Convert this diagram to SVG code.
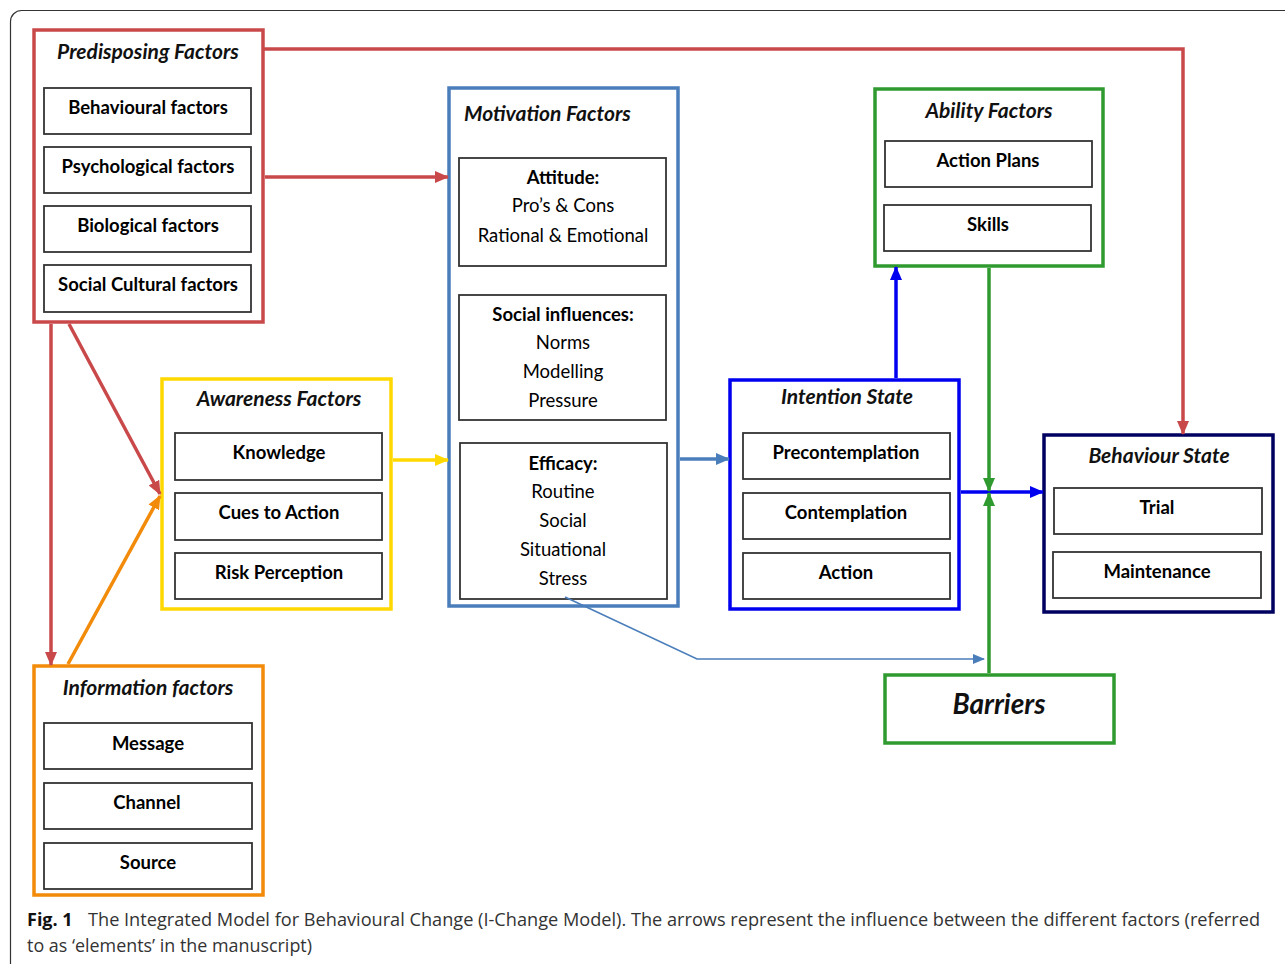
<svg xmlns="http://www.w3.org/2000/svg" width="1285" height="964" viewBox="0 0 1285 964">
<style>
.bg{fill:#fff}
.card{fill:none;stroke:#333;stroke-width:1.2}
.in{fill:#fff;stroke:#333;stroke-width:1.8}
.t{font-family:Lato,"Open Sans","Liberation Sans",sans-serif;font-size:18.5px;fill:#000;text-anchor:middle}
.b{font-weight:bold}
.h{font-family:Lato,"Open Sans","Liberation Sans",sans-serif;font-size:21px;font-style:italic;font-weight:bold;fill:#111;text-anchor:middle}
.cap{font-family:"Open Sans","Noto Sans","Liberation Sans",sans-serif;font-size:18px;fill:#333}
.red{stroke:#c9494b}.stb{stroke:#4a7ebb}.grn{stroke:#2f9a2f}.blu{stroke:#0000f0}.nav{stroke:#000060}.yel{stroke:#ffd800}.org{stroke:#f28a0a}
.frame{fill:#fff;stroke-width:3.5}
.c{fill:none;stroke-width:3.5}
</style>
<defs>
<marker id="aR" markerUnits="userSpaceOnUse" markerWidth="14" markerHeight="12" refX="13" refY="6" orient="auto"><path d="M0,0 L14,6 L0,12 Z" fill="#c9494b"/></marker>
<marker id="aS" markerUnits="userSpaceOnUse" markerWidth="14" markerHeight="12" refX="13" refY="6" orient="auto"><path d="M0,0 L14,6 L0,12 Z" fill="#4a7ebb"/></marker>
<marker id="aG" markerUnits="userSpaceOnUse" markerWidth="14" markerHeight="12" refX="13" refY="6" orient="auto"><path d="M0,0 L14,6 L0,12 Z" fill="#2f9a2f"/></marker>
<marker id="aB" markerUnits="userSpaceOnUse" markerWidth="14" markerHeight="12" refX="13" refY="6" orient="auto"><path d="M0,0 L14,6 L0,12 Z" fill="#0000f0"/></marker>
<marker id="aY" markerUnits="userSpaceOnUse" markerWidth="14" markerHeight="12" refX="13" refY="6" orient="auto"><path d="M0,0 L14,6 L0,12 Z" fill="#ffd800"/></marker>
<marker id="aO" markerUnits="userSpaceOnUse" markerWidth="14" markerHeight="12" refX="13" refY="6" orient="auto"><path d="M0,0 L14,6 L0,12 Z" fill="#f28a0a"/></marker>
<marker id="aSt" markerUnits="userSpaceOnUse" markerWidth="12" markerHeight="10" refX="11" refY="5" orient="auto"><path d="M0,0 L12,5 L0,10 Z" fill="#4a7ebb"/></marker>
</defs>
<rect class="bg" x="0" y="0" width="1285" height="964"/>
<rect class="card" x="10.5" y="10.5" width="1300" height="980" rx="11"/>

<g id="predisposing">
<rect class="frame red" x="34" y="30" width="229" height="292"/>
<text class="h" x="148" y="59">Predisposing Factors</text>
<rect class="in" x="44" y="88" width="207" height="46"/><text class="t b" x="148" y="114">Behavioural factors</text>
<rect class="in" x="44" y="147" width="207" height="46"/><text class="t b" x="148" y="173">Psychological factors</text>
<rect class="in" x="44" y="206" width="207" height="46"/><text class="t b" x="148" y="232">Biological factors</text>
<rect class="in" x="44" y="265" width="207" height="47"/><text class="t b" x="148" y="291">Social Cultural factors</text>
</g>

<g id="motivation">
<rect class="frame stb" x="449" y="88" width="229" height="518"/>
<text class="h" x="464" y="121" style="text-anchor:start">Motivation Factors</text>
<rect class="in" x="459" y="158" width="207" height="108"/>
<text class="t b" x="563" y="184">Attitude:</text>
<text class="t" x="563" y="212">Pro’s &amp; Cons</text>
<text class="t" x="563" y="242">Rational &amp; Emotional</text>
<rect class="in" x="459" y="295" width="207" height="125"/>
<text class="t b" x="563" y="321">Social influences:</text>
<text class="t" x="563" y="349">Norms</text>
<text class="t" x="563" y="378">Modelling</text>
<text class="t" x="563" y="407">Pressure</text>
<rect class="in" x="460" y="443" width="207" height="156"/>
<text class="t b" x="563" y="470">Efficacy:</text>
<text class="t" x="563" y="498">Routine</text>
<text class="t" x="563" y="527">Social</text>
<text class="t" x="563" y="556">Situational</text>
<text class="t" x="563" y="585">Stress</text>
</g>

<g id="ability">
<rect class="frame grn" x="875" y="89" width="228" height="177"/>
<text class="h" x="989" y="118">Ability Factors</text>
<rect class="in" x="885" y="141" width="207" height="46"/><text class="t b" x="988" y="167">Action Plans</text>
<rect class="in" x="884" y="205" width="207" height="46"/><text class="t b" x="988" y="231">Skills</text>
</g>

<g id="awareness">
<rect class="frame yel" x="162" y="379" width="229" height="230"/>
<text class="h" x="279" y="406">Awareness Factors</text>
<rect class="in" x="175" y="433" width="207" height="47"/><text class="t b" x="279" y="459">Knowledge</text>
<rect class="in" x="175" y="493" width="207" height="47"/><text class="t b" x="279" y="519">Cues to Action</text>
<rect class="in" x="175" y="553" width="207" height="46"/><text class="t b" x="279" y="579">Risk Perception</text>
</g>

<g id="intention">
<rect class="frame blu" x="730" y="380" width="229" height="229"/>
<text class="h" x="847" y="404">Intention State</text>
<rect class="in" x="743" y="433" width="207" height="46"/><text class="t b" x="846" y="459">Precontemplation</text>
<rect class="in" x="743" y="493" width="207" height="46"/><text class="t b" x="846" y="519">Contemplation</text>
<rect class="in" x="743" y="553" width="207" height="46"/><text class="t b" x="846" y="579">Action</text>
</g>

<g id="behaviour">
<rect class="frame nav" x="1044" y="435" width="229" height="177"/>
<text class="h" x="1159" y="463">Behaviour State</text>
<rect class="in" x="1054" y="488" width="208" height="46"/><text class="t b" x="1157" y="514">Trial</text>
<rect class="in" x="1053" y="552" width="208" height="46"/><text class="t b" x="1157" y="578">Maintenance</text>
</g>

<g id="information">
<rect class="frame org" x="34" y="666" width="229" height="229"/>
<text class="h" x="148" y="695">Information factors</text>
<rect class="in" x="44" y="723" width="208" height="46"/><text class="t b" x="148" y="750">Message</text>
<rect class="in" x="44" y="783" width="208" height="46"/><text class="t b" x="147" y="809">Channel</text>
<rect class="in" x="44" y="843" width="208" height="46"/><text class="t b" x="148" y="869">Source</text>
</g>

<g id="barriers">
<rect class="frame grn" x="885" y="675" width="229" height="68"/>
<text class="h" x="999" y="714" style="font-size:28px">Barriers</text>
</g>

<g id="connectors">
<polyline class="c red" points="263,49 1183,49 1183,434" marker-end="url(#aR)"/>
<line class="c red" x1="265" y1="177" x2="448" y2="177" marker-end="url(#aR)"/>
<line class="c red" x1="51" y1="324" x2="51" y2="665" marker-end="url(#aR)"/>
<line class="c red" x1="69" y1="324" x2="160" y2="494" marker-end="url(#aR)"/>
<line class="c org" x1="68" y1="664" x2="160" y2="496" marker-end="url(#aO)"/>
<line class="c yel" x1="393" y1="460" x2="448" y2="460" marker-end="url(#aY)"/>
<line class="c stb" x1="680" y1="459" x2="729" y2="459" marker-end="url(#aS)"/>
<line class="c blu" x1="961" y1="492" x2="1043" y2="492" marker-end="url(#aB)"/>
<line class="c blu" x1="896" y1="378" x2="896" y2="267" marker-end="url(#aB)"/>
<line class="c grn" x1="989" y1="268" x2="989" y2="491" marker-end="url(#aG)"/>
<line class="c grn" x1="989" y1="673" x2="989" y2="493" marker-end="url(#aG)"/>
<polyline fill="none" stroke="#4a7ebb" stroke-width="1.6" points="565,597 697,659 984,659" marker-end="url(#aSt)"/>
</g>

<g id="caption">
<text class="cap" x="27" y="926" font-weight="bold" fill="#111" style="fill:#111">Fig. 1</text>
<text class="cap" x="88" y="926" textLength="1172" lengthAdjust="spacingAndGlyphs">The Integrated Model for Behavioural Change (I-Change Model). The arrows represent the influence between the different factors (referred</text>
<text class="cap" x="27" y="952" textLength="285" lengthAdjust="spacingAndGlyphs">to as ‘elements’ in the manuscript)</text>
</g>
</svg>
